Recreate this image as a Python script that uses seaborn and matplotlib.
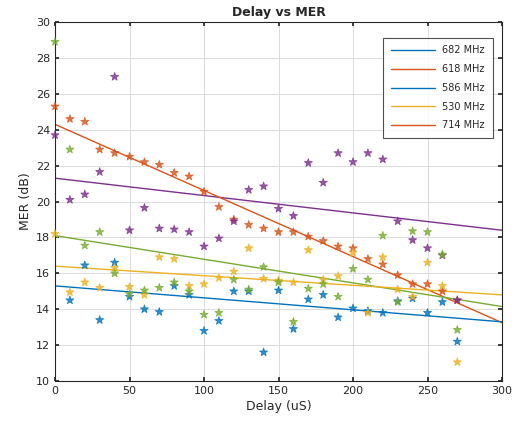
import numpy as np
import pandas as pd
import matplotlib
matplotlib.use("Agg")
import matplotlib.pyplot as plt
import seaborn as sns
from matplotlib.lines import Line2D

delay = [0, 10, 20, 30, 40, 50, 60, 70, 80, 90, 100, 110, 120, 130,
         140, 150, 160, 170, 180, 190, 200, 210, 220, 230, 240, 250, 260, 270]

mer_blue = [np.nan, 14.5, 16.45, 13.4, 16.6, 14.7, 14.0, 13.85, 15.3, 14.8, 12.8, 13.35, 15.0, 15.0,
            11.6, 15.05, 12.9, 14.55, 14.8, 13.55, 14.05, 13.9, 13.8, 14.45, 14.6, 13.8, 14.4, 12.2]
mer_orange = [25.3, 24.6, 24.45, 22.9, 22.7, 22.5, 22.2, 22.05, 21.6, 21.4, 20.55, 19.7, 19.0, 18.7,
              18.5, 18.3, 18.3, 18.05, 17.8, 17.5, 17.4, 16.8, 16.5, 15.9, 15.4, 15.4, 15.0, 14.5]
mer_yellow = [18.2, 14.95, 15.5, 15.2, 16.3, 15.25, 14.8, 16.9, 16.8, 15.3, 15.4, 15.75, 16.1, 17.4,
              15.7, 15.6, 15.5, 17.3, 15.65, 15.85, 17.15, 13.8, 16.9, 15.1, 14.7, 16.6, 15.3, 11.05]
mer_purple = [23.7, 20.1, 20.4, 21.65, 26.95, 18.4, 19.65, 18.5, 18.45, 18.3, 17.5, 17.95, 18.9, 20.65,
              20.85, 19.6, 19.2, 22.15, 21.05, 22.7, 22.2, 22.7, 22.35, 18.9, 17.85, 17.4, 17.0, 14.5]
mer_green = [28.9, 22.9, 17.55, 18.3, 16.0, 14.85, 15.05, 15.2, 15.5, 15.0, 13.7, 13.8, 15.65, 15.1,
             16.35, 15.5, 13.3, 15.15, 15.4, 14.7, 16.25, 15.65, 18.1, 14.4, 18.35, 18.3, 17.05, 12.85]

# linear fit lines (values read at x=0 and x=300)
fit_x = [0, 300]
fit_blue = [15.3, 13.3]
fit_orange = [24.3, 13.25]
fit_yellow = [16.4, 14.8]
fit_purple = [21.3, 18.4]
fit_green = [18.1, 14.15]

legend_labels = ["682 MHz", "618 MHz", "586 MHz", "530 MHz", "714 MHz"]
legend_colors = ["#0072BD", "#D95319", "#0072BD", "#EDB120", "#D95319"]

C_BLUE, C_ORANGE, C_YELLOW, C_PURPLE, C_GREEN = "#0072BD", "#D95319", "#EDB120", "#7E2F8E", "#77AC30"

sns.set_theme(style="white")
plt.rcParams['font.family'] = ['DejaVu Sans']

fig = plt.figure(figsize=(5.2, 4.32), dpi=100)
ax = fig.add_axes([0.1058, 0.118, 0.8596, 0.831])

series = [("blue", mer_blue, C_BLUE), ("orange", mer_orange, C_ORANGE),
          ("yellow", mer_yellow, C_YELLOW), ("purple", mer_purple, C_PURPLE),
          ("green", mer_green, C_GREEN)]
rows = []
for name, vals, col in series:
    for d, v in zip(delay, vals):
        rows.append({"delay": d, "mer": v, "series": name})
df = pd.DataFrame(rows).dropna()
palette = {name: col for name, _, col in series}
sns.scatterplot(data=df, x="delay", y="mer", hue="series", palette=palette,
                marker="*", s=38, edgecolor="face", linewidth=0.6,
                alpha=0.8, legend=False, ax=ax, zorder=3)
for coll in ax.collections:
    coll.set_clip_on(False)

fits = [(fit_purple, C_PURPLE), (fit_orange, C_ORANGE), (fit_green, C_GREEN),
        (fit_yellow, C_YELLOW), (fit_blue, C_BLUE)]
for vals, col in fits:
    sns.lineplot(x=fit_x, y=vals, color=col, lw=1.0, ax=ax, zorder=2)

ax.set_xlim(0, 300)
ax.set_ylim(10, 30)
ax.set_xticks(np.arange(0, 301, 50))
ax.set_yticks(np.arange(10, 31, 2))
ax.grid(True, color="#dcdcdc", lw=0.7)
ax.set_axisbelow(True)
ax.tick_params(direction="in", length=3, labelsize=8, colors="#262626",
               top=True, right=True, bottom=True, left=True)
for sp in ax.spines.values():
    sp.set_color("#262626")
    sp.set_linewidth(0.8)
ax.set_xlabel("Delay (uS)", fontsize=9, color="#262626", labelpad=3)
ax.set_ylabel("MER (dB)", fontsize=9, color="#262626", labelpad=3)
ax.set_title("Delay vs MER", fontsize=9, fontweight="bold", pad=4)

handles = [Line2D([0], [0], color=c, lw=1.0) for c in legend_colors]
leg = ax.legend(handles, legend_labels, loc="upper right", fontsize=7,
                frameon=True, fancybox=False, edgecolor="#262626",
                handlelength=4.5, borderpad=0.8, labelspacing=0.9,
                bbox_to_anchor=(0.99, 0.97))
leg.get_frame().set_linewidth(0.8)
leg.set_zorder(5)

fig.savefig("out.png", dpi=100)
